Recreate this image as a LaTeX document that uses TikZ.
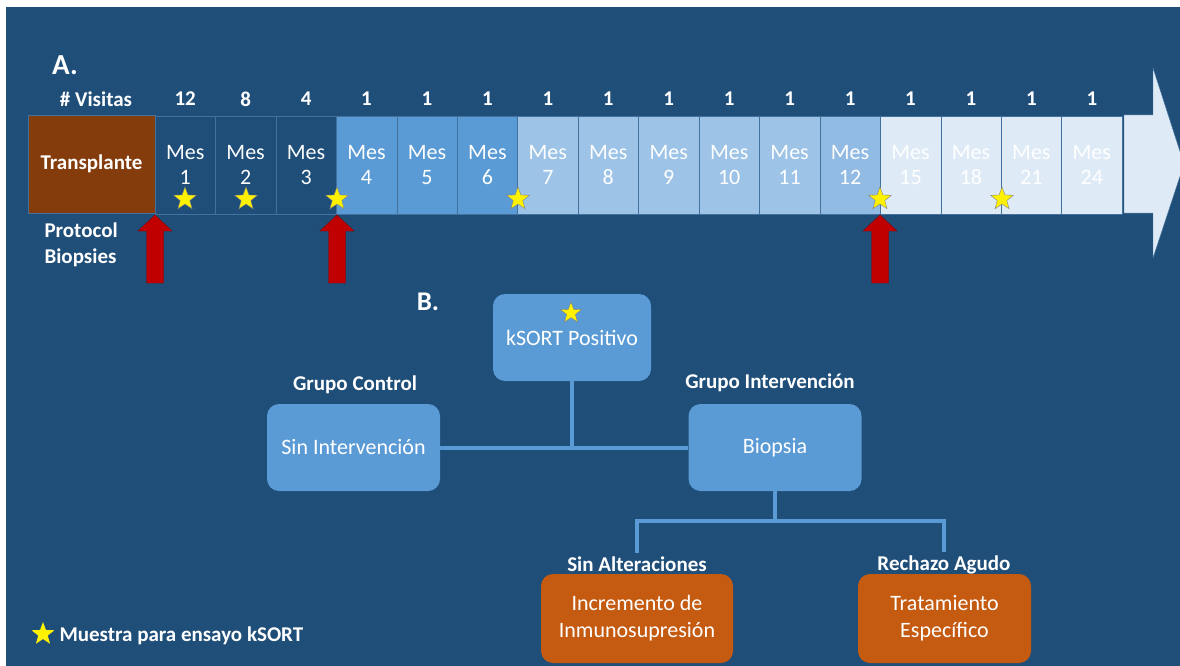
\documentclass[tikz,border=0pt]{standalone}
\usepackage{fontspec}
\setmainfont{Carlito}
\usetikzlibrary{shapes.geometric}
\definecolor{bgblue}{RGB}{31,78,121}
\definecolor{brn}{RGB}{132,60,12}
\definecolor{midblue}{RGB}{91,155,213}
\definecolor{paleblue}{RGB}{157,195,230}
\definecolor{twblue}{RGB}{146,187,228}
\definecolor{ltblue}{RGB}{222,235,247}
\definecolor{edgeblue}{RGB}{65,113,156}
\definecolor{redarr}{RGB}{192,0,0}
\definecolor{orng}{RGB}{197,90,17}

\begin{document}
\begin{tikzpicture}[x=1pt,y=-1pt,
    every node/.style={text=white,font=\fontsize{22}{25}\selectfont},
    cell/.style={draw=edgeblue,minimum width=60.44pt,minimum height=98pt,inner sep=0pt,align=center},
    ystar/.style={star,star points=5,star point ratio=2.4,fill=yellow,draw=gray,inner sep=0pt,minimum size=24pt},
    bbox/.style={rounded corners=12pt,fill=midblue,minimum width=173pt,minimum height=87pt,align=center},
    obox/.style={rounded corners=12pt,fill=orng,minimum height=89pt,align=center,font=\fontsize{22}{27}\selectfont},
    conn/.style={midblue,line width=4pt},
    lbl/.style={font=\fontsize{21}{26}\selectfont\bfseries}]
            \fill[white] (0,0) rectangle (1180,666);
            \fill[bgblue] (6,7) rectangle (1180,666);
            \useasboundingbox (0,0) rectangle (1180,666);
            % A. timeline
            \node[font=\fontsize{29}{31}\selectfont\bfseries] (ta) at (65,65) {A.};
            \node[lbl] (vis) at (96,99) {\# Visitas};
            \node[cell,fill=brn,minimum width=127pt,font=\fontsize{21}{25}\selectfont\bfseries] (tx) at (91.5,164) {Transplante};
            \draw[edgeblue,fill=ltblue] (1124,115) -- (1153,115) -- (1153,68) -- (1184,164) -- (1153,258) -- (1153,213) -- (1124,213) -- cycle;
            \foreach \i/\m/\c/\v in {0/1/bgblue/12,1/2/bgblue/8,2/3/bgblue/4,3/4/midblue/1,4/5/midblue/1,5/6/midblue/1,
                6/7/paleblue/1,7/8/paleblue/1,8/9/paleblue/1,9/10/paleblue/1,10/11/paleblue/1,11/12/twblue/1,
                12/15/ltblue/1,13/18/ltblue/1,14/21/ltblue/1,15/24/ltblue/1}{
                \node[cell,fill=\c] (m\m) at ({155+60.44*(\i+0.5)},165) {Mes\\\m};
                \node[lbl] (v\m) at (m\m |- 0,99) {\v};
            }
            \foreach \x/\n in {185/1,246/2,337/3,518/4,880/5,1002/6}
                \node[ystar] (s\n) at (\x,199) {};
            \foreach \x in {155,337,880}
                \filldraw[fill=redarr,draw=redarr!70!black] (\x,215) -- (\x+17,231) -- (\x+8.5,231) -- (\x+8.5,283)
                    -- (\x-8.5,283) -- (\x-8.5,231) -- (\x-17,231) -- cycle;
            \node[lbl,align=left,anchor=west] (pb) at (41,245) {Protocol\\Biopsies};
            % B. flow
            \node[font=\fontsize{27}{30}\selectfont\bfseries] (tb) at (428,302) {B.};
            \node[bbox,minimum width=158pt] (ks) at (572,337.5) {kSORT Positivo};
            \node[ystar,minimum size=22pt] (s7) at (571,313) {};
            \node[lbl] (gc) at (355,385) {Grupo Control};
            \node[bbox] (sin) at (353.5,447.5) {Sin Intervención};
            \node[lbl] (gi) at (770,383) {Grupo Intervención};
            \node[bbox] (bio) at (775,447.5) {Biopsia};
            \draw[conn] (sin.east) -- (bio.west);
            \draw[conn] (ks.south) -- (ks.south |- sin.east);
            \node[lbl] (sa) at (637,564) {Sin Alteraciones};
            \node[lbl] (ra) at (944,565) {Rechazo Agudo};
            \draw[conn] (bio.south) -- ++(0,30) -| (sa.north);
            \draw[conn] (bio.south) ++(0,30) -| (ra.north);
            \node[obox,minimum width=192pt] (inc) at (637,618.5) {Incremento de\\Inmunosupresión};
            \node[obox,minimum width=173pt] (tra) at (944.5,618.5) {Tratamiento\\Específico};
            % legend
            \node[ystar,draw=none,minimum size=24pt] (ls) at (43,634) {};
            \node[lbl,anchor=west] (lt) at (56,636) {Muestra para ensayo kSORT};
        \end{tikzpicture}
\end{document}
